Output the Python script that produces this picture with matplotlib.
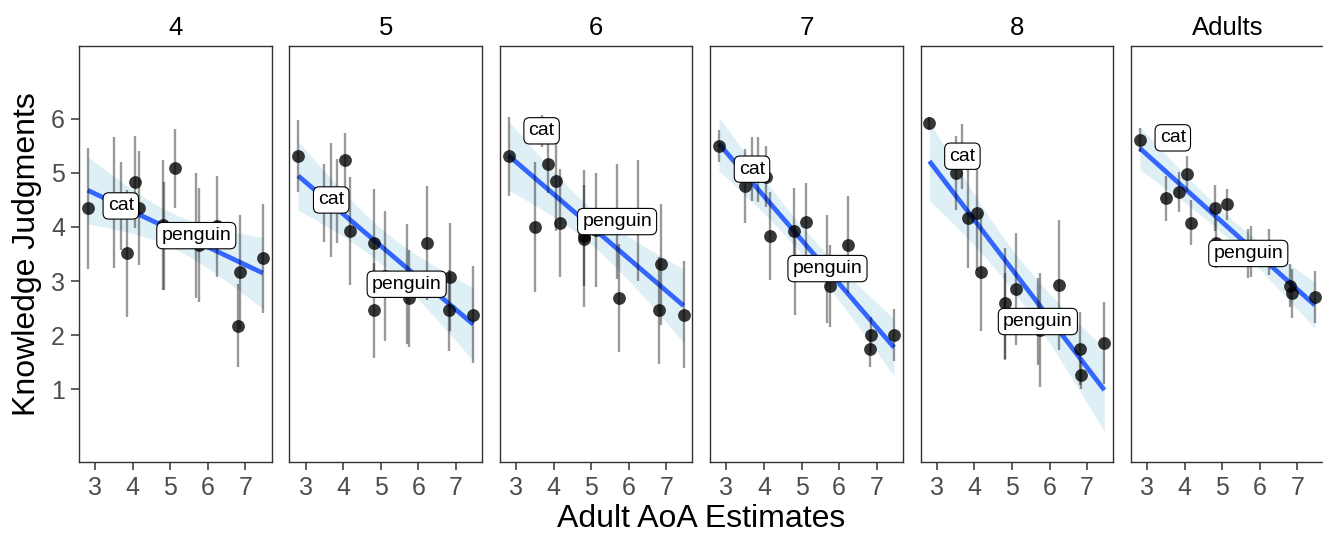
import matplotlib
matplotlib.use("Agg")
import matplotlib.pyplot as plt
import numpy as np

plt.rcParams["font.family"] = ["Liberation Sans", "DejaVu Sans"]

# adult AoA estimate per word (same items in every panel)
aoa = np.array([2.80, 3.50, 3.68, 3.84, 4.06, 4.17, 4.81, 4.82,
                5.12, 5.69, 5.75, 6.24, 6.81, 6.85, 7.46])
cat_idx = 2
penguin_idx = 9

panels = ["4", "5", "6", "7", "8", "Adults"]

# mean knowledge judgment per word, one list per age group
mean_4 = [4.35, 4.46, 4.39, 3.51, 4.84, 4.35, 4.04, 3.84, 5.09, 3.84, 3.67, 4.01, 2.17, 3.17, 3.42]
mean_5 = [5.31, 4.45, 4.50, 4.48, 5.24, 3.93, 3.70, 2.46, 3.09, 2.94, 2.68, 3.70, 2.46, 3.08, 2.38]
mean_6 = [5.31, 4.00, 5.78, 5.16, 4.85, 4.08, 3.78, 3.84, 3.94, 4.10, 2.69, 4.12, 2.46, 3.31, 2.38]
mean_7 = [5.50, 4.76, 5.07, 5.06, 4.93, 3.83, 3.93, 3.20, 4.09, 3.23, 2.91, 3.67, 1.75, 2.00, 2.00]
mean_8 = [5.92, 5.00, 5.31, 4.17, 4.25, 3.17, 2.59, 2.34, 2.85, 2.25, 2.09, 2.93, 1.75, 1.26, 1.85]
mean_ad = [5.61, 4.53, 5.65, 4.64, 4.98, 4.08, 4.35, 3.70, 4.42, 3.51, 3.54, 3.54, 2.91, 2.77, 2.71]

# half-width of the error bar per word
err_4 = [1.12, 1.21, 0.82, 1.17, 0.85, 1.05, 1.20, 1.00, 0.73, 1.16, 1.06, 0.93, 0.77, 1.05, 1.01]
err_5 = [0.67, 0.72, 1.06, 0.78, 0.50, 1.00, 1.00, 0.88, 1.20, 1.11, 0.90, 1.05, 0.75, 1.00, 0.90]
err_6 = [0.73, 1.20, 0.30, 0.53, 0.93, 1.00, 1.27, 0.94, 1.06, 1.06, 1.00, 1.12, 0.99, 1.12, 0.99]
err_7 = [0.29, 0.68, 0.59, 0.60, 0.56, 0.81, 0.80, 0.83, 0.72, 1.00, 0.76, 0.90, 0.34, 0.34, 0.48]
err_8 = [0.12, 0.69, 0.60, 0.92, 1.07, 1.10, 1.03, 0.80, 1.04, 0.80, 1.05, 1.20, 0.68, 0.26, 0.76]
err_ad = [0.22, 0.42, 0.20, 0.37, 0.34, 0.42, 0.43, 0.45, 0.29, 0.45, 0.47, 0.42, 0.40, 0.46, 0.48]

means = [mean_4, mean_5, mean_6, mean_7, mean_8, mean_ad]
errs = [err_4, err_5, err_6, err_7, err_8, err_ad]

T_975_DF13 = 2.1604  # t quantile for 95% band, n = 15


def lm_band(x, y, grid):
    n = len(x)
    slope, icpt = np.polyfit(x, y, 1)
    fit = icpt + slope * grid
    resid = y - (icpt + slope * x)
    s = np.sqrt(np.sum(resid ** 2) / (n - 2))
    sxx = np.sum((x - x.mean()) ** 2)
    se = s * np.sqrt(1 / n + (grid - x.mean()) ** 2 / sxx)
    return fit, fit - T_975_DF13 * se, fit + T_975_DF13 * se


W, H = 1323, 538
fig = plt.figure(figsize=(W / 100, H / 100), dpi=100)

left0, pw, step = 79, 192.5, 210.4
top, bottom = 46, 462
span = aoa.max() - aoa.min()
xlim = (aoa.min() - 0.05 * span, aoa.max() + 0.05 * span)
grid = np.linspace(aoa.min(), aoa.max(), 80)

for i, (name, m, e) in enumerate(zip(panels, means, errs)):
    ax = fig.add_axes([(left0 + i * step) / W, 1 - bottom / H, pw / W, (bottom - top) / H])
    m = np.asarray(m)
    e = np.asarray(e)

    fit, lo, hi = lm_band(aoa, m, grid)
    ax.fill_between(grid, lo, hi, color="#ADD8E6", alpha=0.4, lw=0, zorder=1)
    ax.plot(grid, fit, color="#3366FF", lw=3.4, zorder=2, solid_capstyle="butt")

    ax.vlines(aoa, m - e, m + e, color="black", alpha=0.4, lw=1.7, zorder=3)
    ax.scatter(aoa, m, s=85, color="black", alpha=0.78, lw=0, zorder=4)

    for j, word in [(cat_idx, "cat"), (penguin_idx, "penguin")]:
        ax.text(aoa[j], m[j], word, ha="center", va="center", fontsize=14, zorder=5,
                bbox=dict(boxstyle="round,pad=0.24,rounding_size=0.3", fc="white",
                          ec="black", lw=0.8))

    ax.set_xlim(xlim)
    ax.set_ylim(-0.35, 7.35)
    ax.set_xticks([3, 4, 5, 6, 7])
    ax.set_yticks([1, 2, 3, 4, 5, 6])
    ax.tick_params(length=6, width=1.1, color="#333333", labelcolor="#4D4D4D",
                   labelsize=18, pad=4)
    if i > 0:
        ax.tick_params(axis="y", left=False, labelleft=False)
    for sp in ax.spines.values():
        sp.set_color("#333333")
        sp.set_linewidth(1.0)
    ax.set_title(name, fontsize=18.5, pad=8)

fig.text((left0 + 5 * step + pw + left0) / 2 / W, 1 - 519 / H, "Adult AoA Estimates",
         ha="center", va="center", fontsize=23)
fig.text(27 / W, 1 - 254 / H, "Knowledge Judgments", rotation=90,
         ha="center", va="center", fontsize=23)

fig.savefig("out.png", dpi=100)
